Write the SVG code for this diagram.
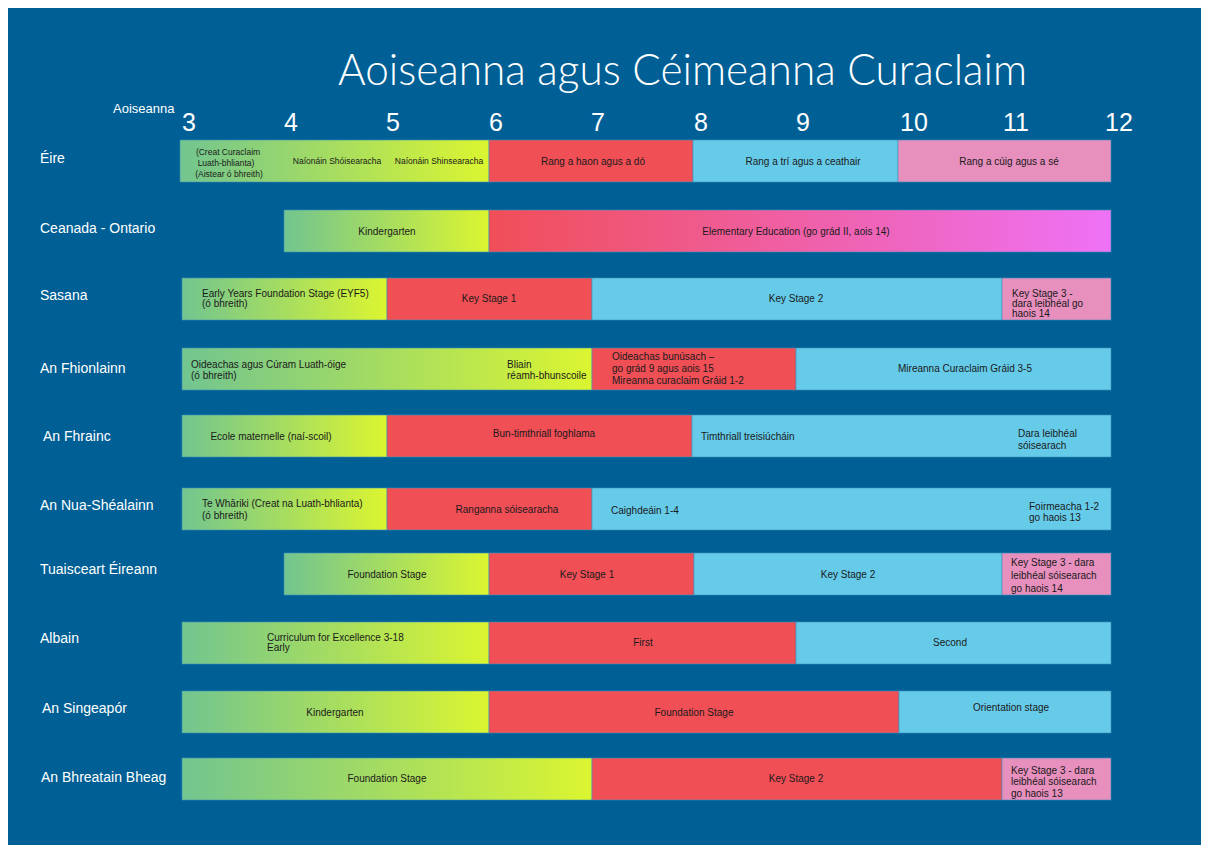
<svg xmlns="http://www.w3.org/2000/svg" width="1210" height="852" viewBox="0 0 1210 852">
<defs>
<linearGradient id="gGreen" x1="0" y1="0" x2="1" y2="0">
<stop offset="0" stop-color="#72c590"/>
<stop offset="1" stop-color="#dbf530"/>
</linearGradient>
<linearGradient id="gMag" x1="0" y1="0" x2="1" y2="0">
<stop offset="0" stop-color="#f04e57"/>
<stop offset="1" stop-color="#ee72f6"/>
</linearGradient>
<style>
.bg{fill:#005f95}
.gr{fill:url(#gGreen)}
.rd{fill:#f04f56}
.bl{fill:#66cbe9}
.pk{fill:#e78fbd}
.mg{fill:url(#gMag)}
.seg{stroke:#3d8fb8;stroke-width:0.6}
text{font-family:"Liberation Sans",Arial,sans-serif}
.t{font-size:10px;fill:#1a1a1a}
.ts{font-size:8.5px;fill:#1a1a1a}
.c{text-anchor:middle}
.lbl{font-size:14px;fill:#ffffff}
.ax{font-size:25px;fill:#ffffff;text-anchor:middle}
</style>
</defs>
<rect x="0" y="0" width="1210" height="852" fill="#ffffff"/>
<rect class="bg" x="8" y="8" width="1193" height="837"/>
<text id="title" x="338" y="85" font-size="44" font-weight="300" fill="#ffffff" textLength="689" lengthAdjust="spacingAndGlyphs" style="font-family:Lato,'Liberation Sans',sans-serif">Aoiseanna agus Céimeanna Curaclaim</text>
<g id="axis">
<text x="113" y="113" font-size="13" fill="#ffffff">Aoiseanna</text>
<text class="ax" x="189" y="131">3</text>
<text class="ax" x="291" y="131">4</text>
<text class="ax" x="393" y="131">5</text>
<text class="ax" x="496" y="131">6</text>
<text class="ax" x="598" y="131">7</text>
<text class="ax" x="701" y="131">8</text>
<text class="ax" x="803" y="131">9</text>
<text class="ax" x="914" y="131">10</text>
<text class="ax" x="1016" y="131">11</text>
<text class="ax" x="1119" y="131">12</text>
</g>

<g id="row-eire">
<text class="lbl" x="40" y="163">Éire</text>
<rect class="gr seg" x="180" y="140" width="309" height="42"/>
<rect class="rd seg" x="489" y="140" width="204" height="42"/>
<rect class="bl seg" x="693" y="140" width="205" height="42"/>
<rect class="pk seg" x="898" y="140" width="213" height="42"/>
<text class="ts c" x="228" y="155">(Creat Curaclaim</text>
<text class="ts c" x="226" y="166">Luath-bhlianta)</text>
<text class="ts c" x="229" y="177">(Aistear ó bhreith)</text>
<text class="ts c" x="337" y="164">Naíonáin Shóisearacha</text>
<text class="ts c" x="439" y="164">Naíonáin Shinsearacha</text>
<text class="t c" x="593" y="164.5">Rang a haon agus a dó</text>
<text class="t c" x="803" y="164.5">Rang a trí agus a ceathair</text>
<text class="t c" x="1009" y="164.5">Rang a cúig agus a sé</text>
</g>

<g id="row-ceanada">
<text class="lbl" x="40" y="233">Ceanada - Ontario</text>
<rect class="gr seg" x="284" y="210" width="205" height="42"/>
<rect class="mg seg" x="489" y="210" width="622" height="42"/>
<text class="t c" x="387" y="234.5">Kindergarten</text>
<text class="t c" x="796" y="234.5">Elementary Education (go grád II, aois 14)</text>
</g>

<g id="row-sasana">
<text class="lbl" x="40" y="300">Sasana</text>
<rect class="gr seg" x="182" y="278" width="205" height="42"/>
<rect class="rd seg" x="387" y="278" width="205" height="42"/>
<rect class="bl seg" x="592" y="278" width="410" height="42"/>
<rect class="pk seg" x="1002" y="278" width="109" height="42"/>
<text class="t" x="202" y="296.5">Early Years Foundation Stage (EYF5)</text>
<text class="t" x="202" y="306.5">(ó bhreith)</text>
<text class="t c" x="489" y="301.5">Key Stage 1</text>
<text class="t c" x="796" y="301.5">Key Stage 2</text>
<text class="t" x="1012" y="297">Key Stage 3 -</text>
<text class="t" x="1012" y="306.5">dara leibhéal go</text>
<text class="t" x="1012" y="316.5">haois 14</text>
</g>

<g id="row-fhionlainn">
<text class="lbl" x="40" y="373">An Fhionlainn</text>
<rect class="gr seg" x="182" y="348" width="410" height="42"/>
<rect class="rd seg" x="592" y="348" width="204" height="42"/>
<rect class="bl seg" x="796" y="348" width="315" height="42"/>
<text class="t" x="191" y="367.5">Oideachas agus Cúram Luath-óige</text>
<text class="t" x="191" y="378.5">(ó bhreith)</text>
<text class="t" x="507" y="367.5">Bliain</text>
<text class="t" x="507" y="378.5">réamh-bhunscoile</text>
<text class="t" x="612" y="359.5">Oideachas bunúsach –</text>
<text class="t" x="612" y="371.5">go grád 9 agus aois 15</text>
<text class="t" x="612" y="383.5">Mireanna curaclaim Gráid 1-2</text>
<text class="t c" x="965" y="371.5">Mireanna Curaclaim Gráid 3-5</text>
</g>

<g id="row-fhrainc">
<text class="lbl" x="43" y="441">An Fhrainc</text>
<rect class="gr seg" x="182" y="415" width="205" height="42"/>
<rect class="rd seg" x="387" y="415" width="305" height="42"/>
<rect class="bl seg" x="692" y="415" width="419" height="42"/>
<text class="t c" x="271" y="439.5">Ecole maternelle (naí-scoil)</text>
<text class="t c" x="544" y="436.5">Bun-timthriall foghlama</text>
<text class="t" x="701" y="440">Timthriall treisiúcháin</text>
<text class="t" x="1018" y="436.5">Dara leibhéal</text>
<text class="t" x="1018" y="448.5">sóisearach</text>
</g>

<g id="row-nuashealainn">
<text class="lbl" x="40" y="510">An Nua-Shéalainn</text>
<rect class="gr seg" x="182" y="488" width="205" height="42"/>
<rect class="rd seg" x="387" y="488" width="205" height="42"/>
<rect class="bl seg" x="592" y="488" width="519" height="42"/>
<text class="t" x="202" y="506.5">Te Whāriki (Creat na Luath-bhlianta)</text>
<text class="t" x="202" y="519">(ó bhreith)</text>
<text class="t c" x="507" y="512.5">Ranganna sóisearacha</text>
<text class="t" x="611" y="513.5">Caighdeáin 1-4</text>
<text class="t" x="1029" y="509.5">Foirmeacha 1-2</text>
<text class="t" x="1029" y="520.5">go haois 13</text>
</g>

<g id="row-tuaisceart">
<text class="lbl" x="40" y="574">Tuaisceart Éireann</text>
<rect class="gr seg" x="284" y="553" width="205" height="42"/>
<rect class="rd seg" x="489" y="553" width="205" height="42"/>
<rect class="bl seg" x="694" y="553" width="308" height="42"/>
<rect class="pk seg" x="1002" y="553" width="109" height="42"/>
<text class="t c" x="387" y="577.5">Foundation Stage</text>
<text class="t c" x="587" y="577.5">Key Stage 1</text>
<text class="t c" x="848" y="577.5">Key Stage 2</text>
<text class="t" x="1011" y="565.5">Key Stage 3 - dara</text>
<text class="t" x="1011" y="578.5">leibhéal sóisearach</text>
<text class="t" x="1011" y="591.5">go haois 14</text>
</g>

<g id="row-albain">
<text class="lbl" x="40" y="643">Albain</text>
<rect class="gr seg" x="182" y="622" width="307" height="42"/>
<rect class="rd seg" x="489" y="622" width="307" height="42"/>
<rect class="bl seg" x="796" y="622" width="315" height="42"/>
<text class="t" x="267" y="640.5">Curriculum for Excellence 3-18</text>
<text class="t" x="267" y="650.5">Early</text>
<text class="t c" x="643" y="645.5">First</text>
<text class="t c" x="950" y="645.5">Second</text>
</g>

<g id="row-singeapor">
<text class="lbl" x="42" y="713">An Singeapór</text>
<rect class="gr seg" x="182" y="691" width="307" height="42"/>
<rect class="rd seg" x="489" y="691" width="410" height="42"/>
<rect class="bl seg" x="899" y="691" width="212" height="42"/>
<text class="t c" x="335" y="715.5">Kindergarten</text>
<text class="t c" x="694" y="715.5">Foundation Stage</text>
<text class="t c" x="1011" y="710.5">Orientation stage</text>
</g>

<g id="row-bhreatain">
<text class="lbl" x="41" y="782">An Bhreatain Bheag</text>
<rect class="gr seg" x="182" y="758" width="410" height="42"/>
<rect class="rd seg" x="592" y="758" width="410" height="42"/>
<rect class="pk seg" x="1002" y="758" width="109" height="42"/>
<text class="t c" x="387" y="781.5">Foundation Stage</text>
<text class="t c" x="796" y="781.5">Key Stage 2</text>
<text class="t" x="1011" y="773.5">Key Stage 3 - dara</text>
<text class="t" x="1011" y="784.5">leibhéal sóisearach</text>
<text class="t" x="1011" y="796.5">go haois 13</text>
</g>
</svg>
